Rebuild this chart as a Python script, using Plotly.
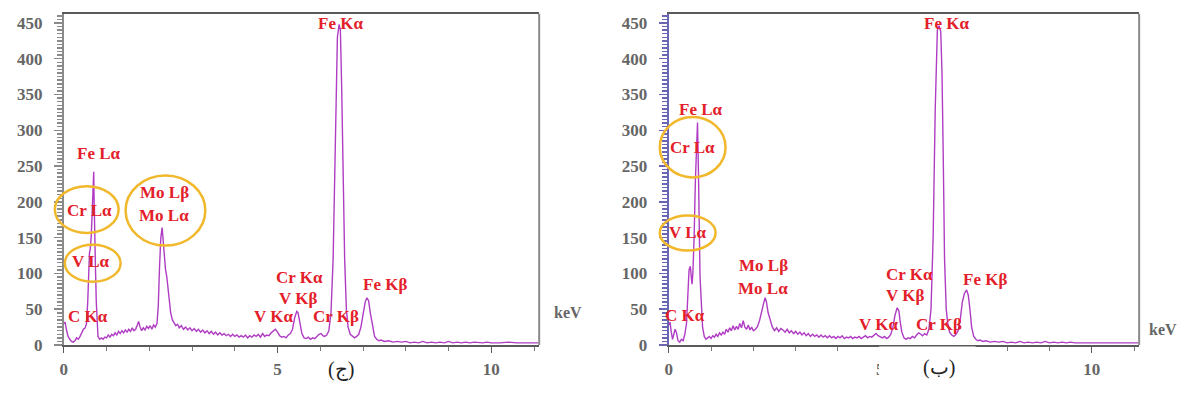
import plotly.graph_objects as go

# ---------------- data ----------------
energy_j = [0.00,0.03,0.06,0.10,0.14,0.18,0.22,0.26,0.30,0.34,0.38,0.42,0.46,0.50,0.53,0.56,0.58,0.60,0.62,0.64,
            0.66,0.68,0.70,0.71,0.72,0.74,0.76,0.78,0.80,0.84,0.88,0.92,0.96,1.00,1.04,1.08,1.12,1.16,1.20,1.24,
            1.28,1.32,1.36,1.40,1.44,1.48,1.52,1.56,1.60,1.64,1.68,1.72,1.75,1.78,1.82,1.86,1.90,1.94,1.98,2.02,
            2.06,2.10,2.14,2.18,2.21,2.24,2.27,2.30,2.32,2.35,2.38,2.41,2.44,2.47,2.50,2.54,2.58,2.62,2.66,2.70,
            2.75,2.80,2.85,2.90,2.95,3.00,3.05,3.10,3.15,3.20,3.25,3.30,3.35,3.40,3.45,3.50,3.55,3.60,3.65,3.70,
            3.75,3.80,3.85,3.90,3.95,4.00,4.05,4.10,4.15,4.20,4.25,4.30,4.35,4.40,4.45,4.50,4.55,4.60,4.65,4.70,
            4.75,4.80,4.85,4.90,4.95,5.00,5.05,5.10,5.15,5.20,5.25,5.30,5.35,5.40,5.45,5.48,5.52,5.57,5.62,5.67,
            5.72,5.77,5.82,5.87,5.92,5.97,6.02,6.06,6.10,6.15,6.20,6.25,6.30,6.35,6.40,6.44,6.47,6.50,6.53,6.57,
            6.61,6.65,6.70,6.75,6.80,6.85,6.90,6.95,7.00,7.05,7.09,7.13,7.17,7.22,7.27,7.32,7.37,7.42,7.50,7.60,
            7.70,7.80,7.90,8.00,8.10,8.20,8.30,8.40,8.50,8.60,8.70,8.80,8.90,9.00,9.10,9.20,9.30,9.40,9.50,9.60,
            9.70,9.80,9.90,10.00,10.20,10.40,10.60,10.80,11.00,11.10]
counts_j = [30,32,22,12,8,5,4,6,10,8,12,18,22,24,30,60,110,128,135,150,
            180,210,242,200,140,110,60,25,12,8,10,8,11,10,14,11,15,13,17,14,
            19,16,20,17,21,18,22,19,24,20,22,28,33,26,20,24,21,26,23,27,
            22,28,25,30,55,110,150,164,150,120,105,95,80,60,45,35,30,27,29,24,
            27,22,25,21,24,20,23,19,22,18,21,17,20,16,19,15,18,14,17,14,
            16,13,15,12,15,12,14,11,13,11,14,10,13,11,14,12,15,11,16,12,
            14,13,17,20,22,18,13,11,12,10,14,16,22,38,47,45,30,16,10,9,
            11,8,10,9,12,15,16,13,12,14,20,45,120,300,430,448,440,360,250,120,
            50,25,15,12,10,12,15,25,45,60,66,62,45,25,12,8,6,7,5,6,
            4,5,4,5,3,4,3,5,3,4,3,4,3,5,3,4,3,4,3,4,
            3,3,4,3,3,4,3,3,4,3]

energy_b = [0.00,0.03,0.06,0.09,0.12,0.15,0.18,0.22,0.26,0.30,0.34,0.38,0.42,0.45,0.48,0.51,0.53,0.55,0.57,0.60,
            0.63,0.66,0.68,0.70,0.72,0.74,0.77,0.80,0.84,0.88,0.92,0.96,1.00,1.04,1.08,1.12,1.16,1.20,1.24,1.28,
            1.32,1.36,1.40,1.44,1.48,1.52,1.56,1.60,1.64,1.68,1.72,1.76,1.80,1.84,1.88,1.92,1.96,2.00,2.05,2.10,
            2.15,2.20,2.25,2.28,2.31,2.35,2.40,2.45,2.50,2.55,2.60,2.65,2.70,2.75,2.80,2.85,2.90,2.95,3.00,3.05,
            3.10,3.15,3.20,3.25,3.30,3.35,3.40,3.45,3.50,3.55,3.60,3.65,3.70,3.75,3.80,3.85,3.90,3.95,4.00,4.05,
            4.10,4.15,4.20,4.25,4.30,4.35,4.40,4.45,4.50,4.55,4.60,4.65,4.70,4.75,4.80,4.85,4.90,4.95,5.00,5.05,
            5.10,5.15,5.20,5.25,5.30,5.35,5.40,5.44,5.47,5.51,5.56,5.61,5.66,5.71,5.76,5.81,5.86,5.91,5.96,6.00,
            6.05,6.10,6.15,6.20,6.25,6.30,6.35,6.39,6.43,6.46,6.49,6.52,6.56,6.60,6.64,6.69,6.74,6.79,6.84,6.89,
            6.94,6.99,7.04,7.08,7.12,7.16,7.21,7.26,7.31,7.36,7.42,7.50,7.60,7.70,7.80,7.90,8.00,8.10,8.20,8.30,
            8.40,8.50,8.60,8.70,8.80,8.90,9.00,9.10,9.20,9.30,9.40,9.50,9.60,9.70,9.80,9.90,10.00,10.20,10.40,10.60,
            10.80,11.00,11.10]
counts_b = [28,32,18,8,15,22,18,6,4,8,6,15,30,70,105,110,95,85,100,150,
            230,290,311,250,120,95,60,25,12,8,10,12,9,13,11,15,12,17,14,18,
            15,22,18,24,20,27,21,26,22,30,24,34,25,22,28,21,25,20,22,26,
            35,50,60,66,60,45,35,25,20,24,19,23,21,18,22,17,20,16,19,15,
            18,14,17,13,16,12,15,12,14,11,14,11,13,10,13,10,12,9,12,10,
            13,9,11,10,12,9,11,10,12,9,11,13,10,12,11,14,16,13,11,10,
            12,9,11,15,25,42,52,48,33,18,10,8,10,9,12,10,14,17,15,13,
            16,14,22,50,150,330,440,446,438,380,260,120,50,28,18,14,12,15,20,35,
            60,72,77,70,50,25,12,8,6,7,5,6,4,5,4,5,3,4,3,5,
            3,4,3,4,3,5,3,4,3,4,3,4,3,3,4,3,3,4,3,3,
            4,3,3]

labels_j = ["Fe Kα", "Fe Lα", "Cr Lα", "V Lα", "Mo Lβ", "Mo Lα", "C Kα", "Cr Kα", "V Kβ", "V Kα", "Cr Kβ", "Fe Kβ"]
labels_b = ["Fe Kα", "Fe Lα", "Cr Lα", "V Lα", "Mo Lβ", "Mo Lα", "C Kα", "Cr Kα", "V Kβ", "V Kα", "Cr Kβ", "Fe Kβ"]
panel_titles = ["(ج)", "(ب)"]
y_ticks = [0, 50, 100, 150, 200, 250, 300, 350, 400, 450]
x_ticks = [0, 5, 10]

# ---------------- layout helpers (pixel -> paper) ----------------
W, H = 1180, 394
def px(x):
    return x / W
def py(y):
    return 1 - y / H

LINE = "#b03cc4"
RED = "#e3202a"
GOLD = "#f0b82a"
GRAY = "#666666"
FONT = "Liberation Serif"

fig = go.Figure()
fig.add_trace(go.Scatter(x=energy_j, y=counts_j, mode="lines", line=dict(color=LINE, width=1.4),
                         xaxis="x", yaxis="y", showlegend=False, hoverinfo="skip"))
fig.add_trace(go.Scatter(x=energy_b, y=counts_b, mode="lines", line=dict(color=LINE, width=1.4),
                         xaxis="x2", yaxis="y2", showlegend=False, hoverinfo="skip"))

ydom = [40 / H, 380 / H]

def xaxis(domain, anchor):
    return dict(domain=domain, anchor=anchor, range=[0, 11.12], tickvals=x_ticks,
                showline=True, linecolor="#5a5a5a", linewidth=2, mirror=True,
                ticks="outside", ticklen=6, tickcolor="#5a5a5a", tickwidth=1,
                minor=dict(dtick=1, ticks="outside", ticklen=4, tickcolor="#7a7a7a"),
                showgrid=False, zeroline=False, ticklabelstandoff=2,
                tickfont=dict(family=FONT, size=17, color=GRAY, weight="bold"))

def yaxis(domain, anchor, color):
    return dict(domain=domain, anchor=anchor, range=[0, 463], tickvals=y_ticks,
                showline=True, linecolor=color, linewidth=2,
                ticks="outside", ticklen=8, tickcolor=color, tickwidth=1.5,
                minor=dict(dtick=5, ticks="outside", ticklen=5, tickcolor=color),
                showgrid=False, zeroline=False, ticklabelstandoff=8,
                tickfont=dict(family=FONT, size=17, color=GRAY, weight="bold"))

fig.update_layout(
    width=W, height=H, margin=dict(l=0, r=0, t=0, b=0),
    paper_bgcolor="white", plot_bgcolor="white",
    xaxis=xaxis([60 / W, 537 / W], "y"),
    yaxis=yaxis(ydom, "x", "#8a8a8a"),
    xaxis2=xaxis([667 / W, 1139 / W], "y2"),
    yaxis2=yaxis(ydom, "x2", "#6a66b4"),
)

# right borders
shapes = []
for xr, yr in [("x domain", "y domain"), ("x2 domain", "y2 domain")]:
    shapes.append(dict(type="line", xref=xr, yref=yr, x0=1, x1=1, y0=0, y1=1,
                       line=dict(color="#8a8a8a", width=2)))

# gold ellipses (cx, cy, rx, ry) in pixels
ellipses = [(83, 215, 32, 24), (89, 270, 28, 19), (162, 216, 40, 36),
            (691, 151, 33, 31), (686, 239, 28, 18)]
for cx, cy, rx, ry in ellipses:
    shapes.append(dict(type="circle", xref="paper", yref="paper",
                       x0=px(cx - rx), x1=px(cx + rx), y0=py(cy + ry), y1=py(cy - ry),
                       line=dict(color=GOLD, width=2.5), layer="above"))

# white box under the right panel label
shapes.append(dict(type="rect", xref="paper", yref="paper", x0=px(878), x1=px(975),
                   y0=0, y1=py(355.5), fillcolor="white", line=dict(width=0), layer="above"))
fig.update_layout(shapes=shapes)

ann = []
pos_j = [(338, 24), (95, 158), (86, 216), (87, 268), (161, 198), (161, 221), (84, 325),
         (297, 285), (295, 306), (270, 325), (333, 325), (382, 292)]
pos_b = [(946, 24), (699, 112), (691, 151), (686, 239), (762, 272), (762, 296), (683, 324),
         (909, 282), (904, 303), (877, 333), (938, 333), (984, 287)]
for labs, poss in [(labels_j, pos_j), (labels_b, pos_b)]:
    for t, (x, y) in zip(labs, poss):
        ann.append(dict(text="<b>" + t + "</b>", x=px(x), y=py(y), xref="paper", yref="paper",
                        showarrow=False, xanchor="center", yanchor="middle",
                        font=dict(family=FONT, size=17, color=RED)))
for t, (x, y, anc) in [("keV", (566, 321, "center")), ("keV", (1179, 338, "right"))]:
    ann.append(dict(text="<b>" + t + "</b>", x=px(x), y=py(y), xref="paper", yref="paper",
                    showarrow=False, xanchor=anc, yanchor="middle",
                    font=dict(family=FONT, size=16, color=GRAY)))
for t, (x, y) in zip(panel_titles, [(338, 379), (938, 377)]):
    ann.append(dict(text=t, x=px(x), y=py(y), xref="paper", yref="paper",
                    showarrow=False, xanchor="center", yanchor="middle",
                    font=dict(family=FONT, size=20, color="#222")))
fig.update_layout(annotations=ann)

post = ("var s=document.createElement('style');"
        "s.textContent='html,body{margin:0;padding:0;overflow:hidden;height:394px;}"
        "body>div{display:block;height:394px;overflow:hidden;}';"
        "document.head.appendChild(s);")
fig.write_html("out.html", config={"displayModeBar": False, "staticPlot": True}, post_script=post)
